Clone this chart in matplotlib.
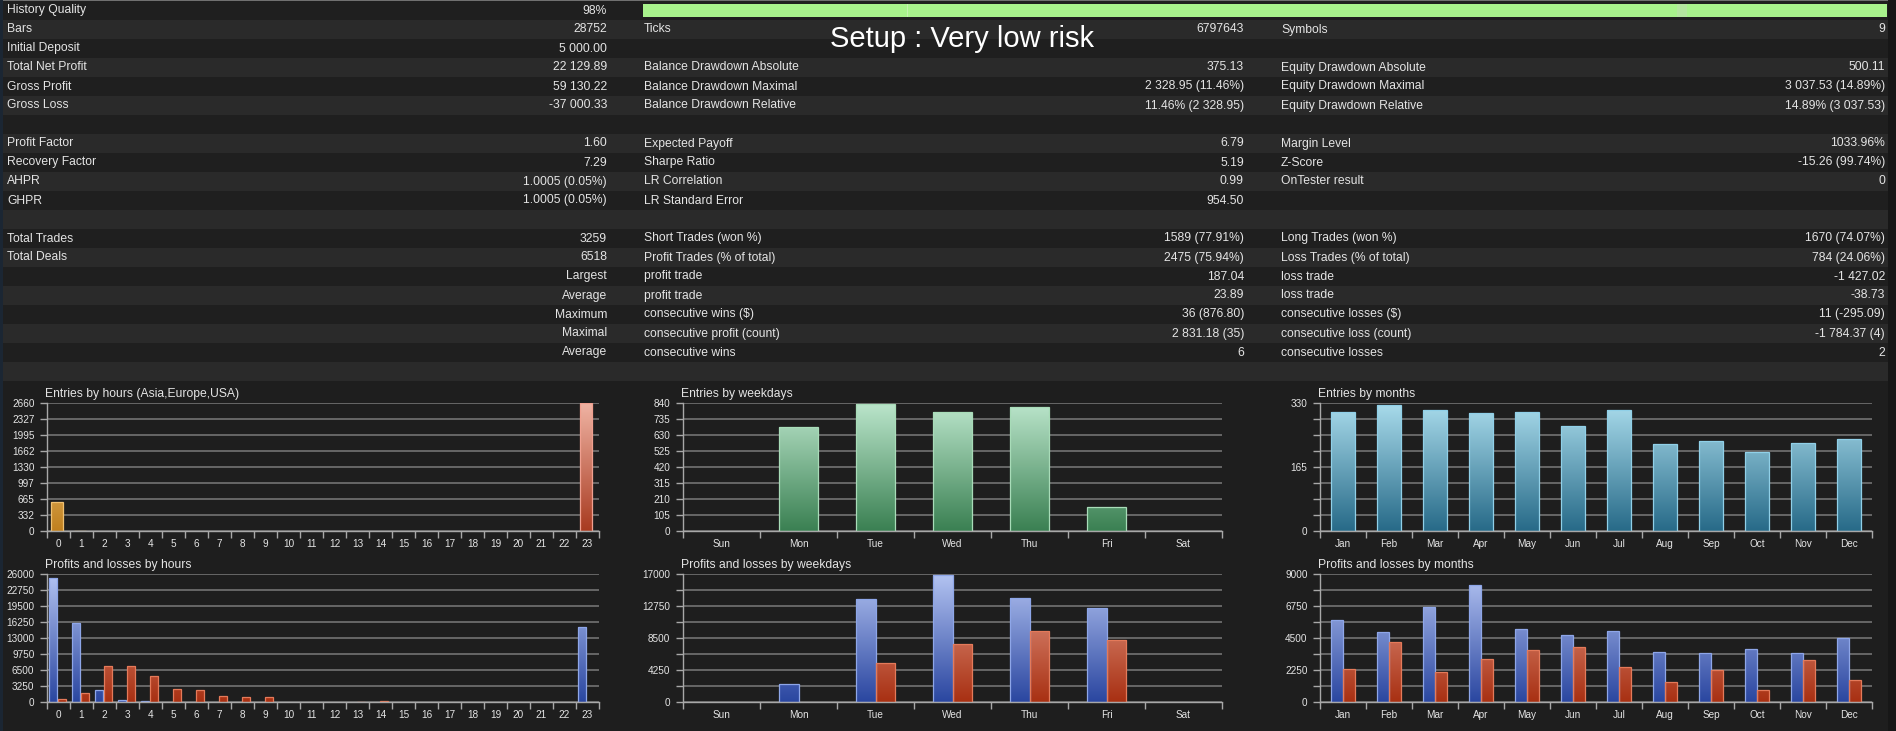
import matplotlib
matplotlib.use('Agg')
import matplotlib.pyplot as plt
import numpy as np
from matplotlib.colors import LinearSegmentedColormap
from matplotlib.patches import Rectangle

plt.rcParams['font.family'] = ['Liberation Sans', 'DejaVu Sans']

# ---------------- data ----------------
setup_title = "Setup : Very low risk"

col1_labels = ["History Quality", "Bars", "Initial Deposit", "Total Net Profit", "Gross Profit", "Gross Loss", "",
               "Profit Factor", "Recovery Factor", "AHPR", "GHPR", "",
               "Total Trades", "Total Deals", "", "", "", "", ""]
col1_values = ["98%", "28752", "5 000.00", "22 129.89", "59 130.22", "-37 000.33", "",
               "1.60", "7.29", "1.0005 (0.05%)", "1.0005 (0.05%)", "",
               "3259", "6518", "Largest", "Average", "Maximum", "Maximal", "Average"]
col2_labels = ["", "Ticks", "", "Balance Drawdown Absolute", "Balance Drawdown Maximal", "Balance Drawdown Relative", "",
               "Expected Payoff", "Sharpe Ratio", "LR Correlation", "LR Standard Error", "",
               "Short Trades (won %)", "Profit Trades (% of total)", "profit trade", "profit trade",
               "consecutive wins ($)", "consecutive profit (count)", "consecutive wins"]
col2_values = ["", "6797643", "", "375.13", "2 328.95 (11.46%)", "11.46% (2 328.95)", "",
               "6.79", "5.19", "0.99", "954.50", "",
               "1589 (77.91%)", "2475 (75.94%)", "187.04", "23.89", "36 (876.80)", "2 831.18 (35)", "6"]
col3_labels = ["", "Symbols", "", "Equity Drawdown Absolute", "Equity Drawdown Maximal", "Equity Drawdown Relative", "",
               "Margin Level", "Z-Score", "OnTester result", "", "",
               "Long Trades (won %)", "Loss Trades (% of total)", "loss trade", "loss trade",
               "consecutive losses ($)", "consecutive loss (count)", "consecutive losses"]
col3_values = ["", "9", "", "500.11", "3 037.53 (14.89%)", "14.89% (3 037.53)", "",
               "1033.96%", "-15.26 (99.74%)", "0", "", "",
               "1670 (74.07%)", "784 (24.06%)", "-1 427.02", "-38.73", "11 (-295.09)", "-1 784.37 (4)", "2"]

hours = [str(i) for i in range(24)]
hour_sessions = ["Asia"] * 8 + ["Europe"] * 8 + ["USA"] * 8
hour_entries = [606, 8, 0, 0, 0, 0, 0, 0, 0, 0, 0, 0, 0, 0, 0, 0, 0, 0, 0, 0, 0, 0, 0, 2650]
hour_profits = [25250, 15980, 2490, 340, 136, 0, 0, 0, 0, 0, 0, 0, 0, 0, 0, 0, 0, 0, 0, 0, 0, 0, 0, 15150]
hour_losses = [510, 1910, 7260, 7330, 5210, 2725, 2385, 1295, 1020, 1020, 0, 0, 0, 90, 272, 0, 0, 0, 0, 0, 0, 0, 0, 0]
hour_entry_ticks = ["0", "332", "665", "997", "1330", "1662", "1995", "2327", "2660"]
hour_pl_ticks = ["0", "3250", "6500", "9750", "13000", "16250", "19500", "22750", "26000"]

weekdays = ["Sun", "Mon", "Tue", "Wed", "Thu", "Fri", "Sat"]
weekday_entries = [0, 683, 836, 778, 814, 157, 0]
weekday_profits = [0, 2450, 13700, 16900, 13790, 12490, 0]
weekday_losses = [0, 0, 5130, 7720, 9415, 8255, 0]
weekday_entry_ticks = ["0", "105", "210", "315", "420", "525", "630", "735", "840"]
weekday_pl_ticks = ["0", "", "4250", "", "8500", "", "12750", "", "17000"]

months = ["Jan", "Feb", "Mar", "Apr", "May", "Jun", "Jul", "Aug", "Sep", "Oct", "Nov", "Dec"]
month_entries = [308, 326, 313, 304, 307, 271, 311, 224, 231, 204, 226, 236]
month_profits = [5800, 4895, 6712, 8197, 5150, 4724, 4984, 3543, 3425, 3732, 3472, 4535]
month_losses = [2348, 4200, 2088, 3000, 3685, 3850, 2457, 1394, 2268, 874, 2953, 1512]
month_entry_ticks = ["0", "", "", "", "165", "", "", "", "330"]
month_pl_ticks = ["0", "", "2250", "", "4500", "", "6750", "", "9000"]

chart_titles = ["Entries by hours (Asia,Europe,USA)", "Profits and losses by hours",
                "Entries by weekdays", "Profits and losses by weekdays",
                "Entries by months", "Profits and losses by months"]

# ---------------- style ----------------
W, H, DPI = 1896, 731, 100
BG = "#1e1e1e"
ROW_DARK = "#1f1f1f"
ROW_LIGHT = "#2a2a2a"
TXT = "#e4e4e4"
AXC = "#a8a8a8"
GRIDC = "#6c6c6c"
ROW_H = 19
ROW_Y0 = 1
FS = 8.7

fig = plt.figure(figsize=(W / DPI, H / DPI), dpi=DPI, facecolor=BG)
bg = fig.add_axes([0, 0, 1, 1], zorder=0)
bg.set_xlim(0, W)
bg.set_ylim(H, 0)
bg.axis("off")
bg.set_facecolor(BG)

# table rows
n_rows = len(col1_labels) + 1
for i in range(n_rows):
    y = ROW_Y0 + i * ROW_H
    bg.add_patch(Rectangle((3, y), 1885, ROW_H, facecolor=ROW_LIGHT if i % 2 else ROW_DARK,
                           edgecolor="none", zorder=1))
# frame details
bg.add_patch(Rectangle((0, 0), W, 1.2, facecolor="#707070", edgecolor="none", zorder=2))
bg.add_patch(Rectangle((0, 0), 3, H, facecolor="#1b2633", edgecolor="none", zorder=2))
bg.add_patch(Rectangle((1888, 0), 8, H, facecolor="#171717", edgecolor="none", zorder=2))

# history quality bar
bg.add_patch(Rectangle((643, 4), 1244, 13, facecolor="#a8f28c", edgecolor="none", zorder=3))
bg.add_patch(Rectangle((907, 4), 1.2, 13, facecolor="#c4f0b0", edgecolor="none", zorder=3))
bg.add_patch(Rectangle((1677, 4), 10, 13, facecolor="#b4e6a0", edgecolor="none", zorder=3))

for i in range(len(col1_labels)):
    yc = ROW_Y0 + i * ROW_H + ROW_H / 2
    kw = dict(fontsize=FS, color=TXT, va="center", zorder=5)
    if col1_labels[i]:
        bg.text(7, yc, col1_labels[i], ha="left", **kw)
    if col1_values[i]:
        bg.text(607, yc, col1_values[i], ha="right", **kw)
    if col2_labels[i]:
        bg.text(644, yc, col2_labels[i], ha="left", **kw)
    if col2_values[i]:
        bg.text(1244, yc, col2_values[i], ha="right", **kw)
    if col3_labels[i]:
        bg.text(1281, yc, col3_labels[i], ha="left", **kw)
    if col3_values[i]:
        bg.text(1885, yc, col3_values[i], ha="right", **kw)

bg.text(830, 39, setup_title, fontsize=21, color="#ffffff", ha="left", va="center", zorder=6)


# ---------------- charts ----------------
def make_ax(x0, x1, ytop, ybot, title):
    bg.text(x0 - 2, ytop - 9, title, fontsize=FS, color=TXT, ha="left", va="center", zorder=6)
    return fig.add_axes([x0 / W, 1 - ybot / H, (x1 - x0) / W, (ybot - ytop) / H], zorder=3)


def setup_axis(ax, cats, yticklabels):
    n = len(cats)
    ymax = float(yticklabels[-1])
    ax.set_facecolor("none")
    for s in ["top", "right"]:
        ax.spines[s].set_visible(False)
    for s in ["left", "bottom"]:
        ax.spines[s].set_color(AXC)
        ax.spines[s].set_linewidth(1.0)
        ax.spines[s].set_zorder(5)
    yt = np.linspace(0, ymax, len(yticklabels))
    ax.set_yticks(yt)
    ax.set_yticklabels(yticklabels)
    ax.yaxis.grid(True, color=GRIDC, linewidth=1.3)
    ax.set_axisbelow(True)
    ax.tick_params(axis="y", length=5, width=1, color=AXC, labelsize=7.2, labelcolor=TXT, pad=4)
    ax.set_xticks(np.arange(n) + 0.5)
    ax.set_xticklabels(cats)
    ax.set_xticks(np.arange(n + 1), minor=True)
    ax.tick_params(axis="x", which="major", length=0, labelsize=7.2, labelcolor=TXT, pad=6)
    ax.tick_params(axis="x", which="minor", length=5, width=1, color=AXC)
    return ymax


def grad_bars(ax, x, heights, width, c_bottom, c_top, edge, ymax):
    bars = ax.bar(x, heights, width=width, facecolor="none", edgecolor=edge, linewidth=0.9, zorder=4)
    if isinstance(c_bottom, str):
        c_bottom = [c_bottom] * len(bars)
        c_top = [c_top] * len(bars)
        edge = [edge] * len(bars)
    grad = np.linspace(0, 1, 256).reshape(-1, 1)
    for b, cb, ct, ec in zip(bars, c_bottom, c_top, edge):
        b.set_edgecolor(ec)
        if b.get_height() <= 0:
            b.set_linewidth(0)
            continue
        cmap = LinearSegmentedColormap.from_list("g", [cb, ct])
        x0 = b.get_x()
        im = ax.imshow(grad, cmap=cmap, origin="lower", extent=[x0, x0 + b.get_width(), 0, ymax],
                       aspect="auto", zorder=3, interpolation="bilinear")
        im.set_clip_path(b)
    return bars


BLUE = ("#2a46a0", "#b4c4f2", "#8ea6e8")
RED = ("#a83012", "#eaa492", "#e47a5a")
SESSION_COLORS = {"Asia": ("#c0801e", "#ffe0a0", "#f0c070"),
                  "Europe": ("#3a8a50", "#b8e4c8", "#a8e0b8"),
                  "USA": ("#a83a20", "#f0b4a4", "#f0a090")}

top_y = (403, 531)
bot_y = (574, 702)
cols = [(47, 599), (683, 1222), (1320, 1872)]

# hours entries
ax = make_ax(cols[0][0], cols[0][1], *top_y, chart_titles[0])
ymax = setup_axis(ax, hours, hour_entry_ticks)
xs = np.arange(len(hours)) + 0.44
grad_bars(ax, xs, hour_entries, 0.5,
          [SESSION_COLORS[s][0] for s in hour_sessions],
          [SESSION_COLORS[s][1] for s in hour_sessions],
          [SESSION_COLORS[s][2] for s in hour_sessions], ymax)
ax.set_xlim(0, len(hours)); ax.set_ylim(0, ymax)

# hours profits/losses
ax = make_ax(cols[0][0], cols[0][1], *bot_y, chart_titles[1])
ymax = setup_axis(ax, hours, hour_pl_ticks)
xs = np.arange(len(hours))
grad_bars(ax, xs + 0.26, hour_profits, 0.36, *BLUE, ymax)
grad_bars(ax, xs + 0.66, hour_losses, 0.36, *RED, ymax)
ax.set_xlim(0, len(hours)); ax.set_ylim(0, ymax)

# weekdays entries
ax = make_ax(cols[1][0], cols[1][1], *top_y, chart_titles[2])
ymax = setup_axis(ax, weekdays, weekday_entry_ticks)
xs = np.arange(len(weekdays))
grad_bars(ax, xs + 0.5, weekday_entries, 0.5, "#3a8052", "#bce6cc", "#a8dcb8", ymax)
ax.set_xlim(0, len(weekdays)); ax.set_ylim(0, ymax)

# weekdays profits/losses
ax = make_ax(cols[1][0], cols[1][1], *bot_y, chart_titles[3])
ymax = setup_axis(ax, weekdays, weekday_pl_ticks)
grad_bars(ax, xs + 0.375, weekday_profits, 0.25, *BLUE, ymax)
grad_bars(ax, xs + 0.63, weekday_losses, 0.25, *RED, ymax)
ax.set_xlim(0, len(weekdays)); ax.set_ylim(0, ymax)

# months entries
ax = make_ax(cols[2][0], cols[2][1], *top_y, chart_titles[4])
ymax = setup_axis(ax, months, month_entry_ticks)
xs = np.arange(len(months))
grad_bars(ax, xs + 0.49, month_entries, 0.52, "#276a88", "#aadcec", "#90d0e8", ymax)
ax.set_xlim(0, len(months)); ax.set_ylim(0, ymax)

# months profits/losses
ax = make_ax(cols[2][0], cols[2][1], *bot_y, chart_titles[5])
ymax = setup_axis(ax, months, month_pl_ticks)
grad_bars(ax, xs + 0.365, month_profits, 0.25, *BLUE, ymax)
grad_bars(ax, xs + 0.63, month_losses, 0.25, *RED, ymax)
ax.set_xlim(0, len(months)); ax.set_ylim(0, ymax)

fig.savefig("out.png", dpi=DPI, facecolor=BG)
